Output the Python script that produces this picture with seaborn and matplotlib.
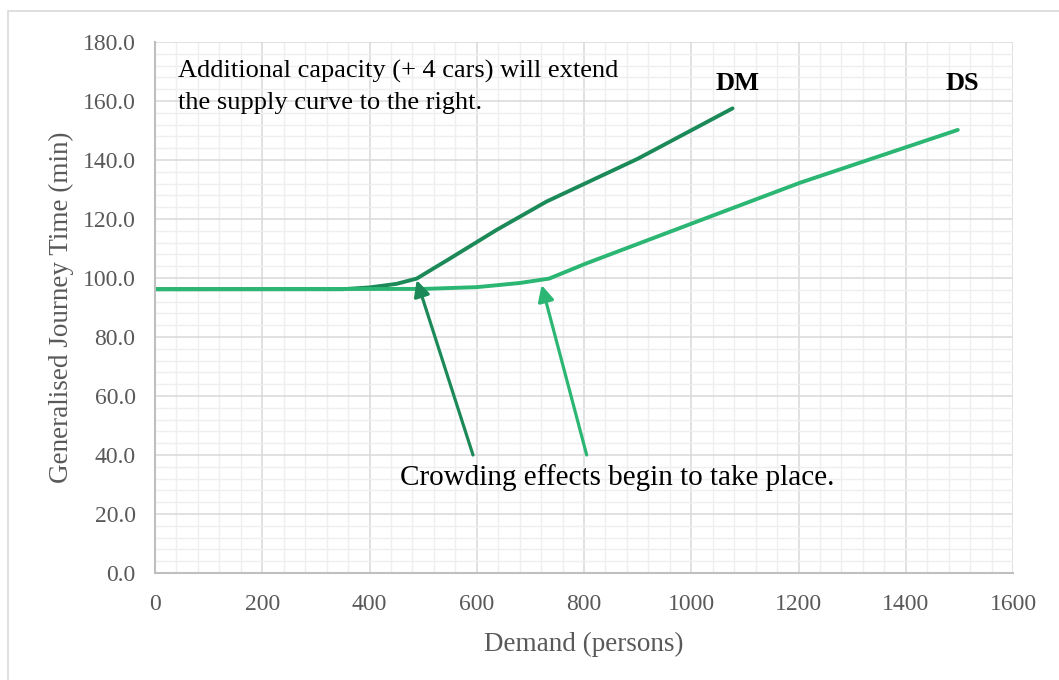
import pandas as pd
import matplotlib.pyplot as plt
import seaborn as sns
from matplotlib.ticker import MultipleLocator, FormatStrFormatter
from matplotlib.patches import Rectangle

# Values
dm_demand = [0, 350, 400, 450, 488, 550, 637, 730, 900, 1077]
dm_time = [96.2, 96.2, 96.8, 98.0, 99.8, 106.6, 116.3, 125.9, 140.4, 157.5]
ds_demand = [0, 500, 600, 680, 735, 805, 1035, 1203, 1497]
ds_time = [96.2, 96.3, 96.9, 98.3, 99.8, 105.0, 120.8, 132.3, 150.2]
series_names = ['DM', 'DS']
series_colors = ['#1C8A58', '#2BB673']

df = pd.concat([
    pd.DataFrame({'Demand': dm_demand, 'Time': dm_time, 'Scenario': 'DM'}),
    pd.DataFrame({'Demand': ds_demand, 'Time': ds_time, 'Scenario': 'DS'}),
])

sns.set_theme(style='white')
plt.rcParams['font.family'] = ['Liberation Serif', 'DejaVu Serif']

fig = plt.figure(figsize=(10.59, 6.8), dpi=100)
ax = fig.add_axes([155 / 1059, 1 - 573 / 680, (1013 - 155) / 1059, (573 - 42) / 680])

sns.lineplot(data=df, x='Demand', y='Time', hue='Scenario', hue_order=series_names,
             palette=series_colors, linewidth=2.8, sort=False, legend=False, ax=ax,
             solid_capstyle='round')

ax.set_xlim(0, 1600)
ax.set_ylim(0, 180)
ax.xaxis.set_major_locator(MultipleLocator(200))
ax.xaxis.set_minor_locator(MultipleLocator(40))
ax.yaxis.set_major_locator(MultipleLocator(20))
ax.yaxis.set_minor_locator(MultipleLocator(4))
ax.yaxis.set_major_formatter(FormatStrFormatter('%.1f'))
ax.grid(which='major', color='#D9D9D9', linewidth=1.1)
ax.grid(which='minor', color='#EFEFEF', linewidth=1.0)
ax.set_axisbelow(True)
for s in ['top', 'right']:
    ax.spines[s].set_visible(False)
for s in ['left', 'bottom']:
    ax.spines[s].set_color('#BFBFBF')
    ax.spines[s].set_linewidth(1.5)
ax.tick_params(which='both', length=0, labelsize=17, labelcolor='#595959')
ax.tick_params(axis='x', pad=15)
ax.tick_params(axis='y', pad=14)

ax.set_xlabel('Demand (persons)', fontsize=19.5, color='#595959', labelpad=12)
ax.set_ylabel('Generalised Journey Time (min)', fontsize=19.5, color='#595959', labelpad=6)

# annotations
ax.text(43, 164.7, 'Additional capacity (+ 4 cars) will extend\nthe supply curve to the right.',
        fontsize=19, color='black', ha='left', va='center', linespacing=1.55)
ax.text(1087, 165.8, 'DM', fontsize=19, fontweight='bold', ha='center', va='center', color='black')
ax.text(1505, 165.8, 'DS', fontsize=19, fontweight='bold', ha='center', va='center', color='black')
ax.text(861, 32.5, 'Crowding effects begin to take place.', fontsize=21, ha='center', va='center',
        color='black')

ax.annotate('', xy=(488, 99.3), xytext=(593, 40),
            arrowprops=dict(arrowstyle='-|>', color=series_colors[0], lw=2.3, mutation_scale=24,
                            shrinkA=0, shrinkB=0))
ax.annotate('', xy=(721, 97.6), xytext=(805, 40),
            arrowprops=dict(arrowstyle='-|>', color=series_colors[1], lw=2.3, mutation_scale=24,
                            shrinkA=0, shrinkB=0))

# chart border
fig.patches.append(Rectangle((8 / 1059, -0.1), 1.2, 1.1 - 11 / 680, transform=fig.transFigure,
                             fill=False, edgecolor='#D9D9D9', linewidth=1.2))

fig.savefig('out.png', dpi=100)
